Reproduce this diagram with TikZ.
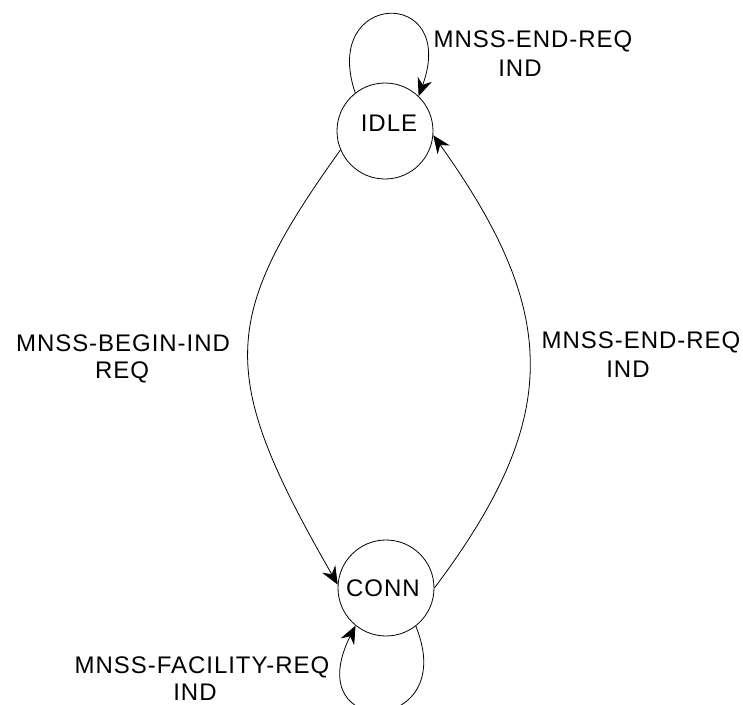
\documentclass[tikz,border=0pt]{standalone}
\usepackage{fontspec}
\setmainfont{Liberation Sans}[LetterSpace=4]
\usetikzlibrary{arrows.meta}
\begin{document}
\begin{tikzpicture}[x=1pt,y=-1pt,
  statecirc/.style={draw,circle,minimum size=96pt,inner sep=0pt,line width=0.8pt},
  lbl/.style={font=\fontsize{24}{28}\selectfont,inner sep=0pt,anchor=base},
  trans/.style={draw,line width=0.8pt,-{Stealth[length=18pt,width=15pt,inset=6pt]}}]
\useasboundingbox (0,0) rectangle (743,704);
\node[statecirc] (idle) at (385,131) {};
\node[statecirc] (conn) at (386,588) {};
\node[lbl] (idletxt) at (389,131) {IDLE};
\node[lbl] (conntxt) at (383,596) {CONN};
% self loop on IDLE
\path[trans] (idle.128) .. controls +(-35,-103) and +(40,-110) .. (idle.46);
% IDLE -> CONN
\path[trans] (idle.203) .. controls +(-122,170) and +(-120,-209) .. (conn.176);
% CONN -> IDLE
\path[trans] (conn.0) .. controls +(127,-169) and +(128,179) .. (idle.355);
% self loop on CONN
\path[trans] (conn.308) .. controls +(45,110) and +(-58,115) .. (conn.231);
% labels
\node[lbl] (l1a) at (533,47.5) {MNSS-END-REQ};
\node[lbl] (l1b) at (520,76.7) {IND};
\node[lbl] (l2a) at (123,351) {MNSS-BEGIN-IND};
\node[lbl] (l2b) at (122,378) {REQ};
\node[lbl] (l3a) at (641,348) {MNSS-END-REQ};
\node[lbl] (l3b) at (628,377) {IND};
\node[lbl] (l4a) at (202,673) {MNSS-FACILITY-REQ};
\node[lbl] (l4b) at (195,700) {IND};
\end{tikzpicture}
\end{document}
